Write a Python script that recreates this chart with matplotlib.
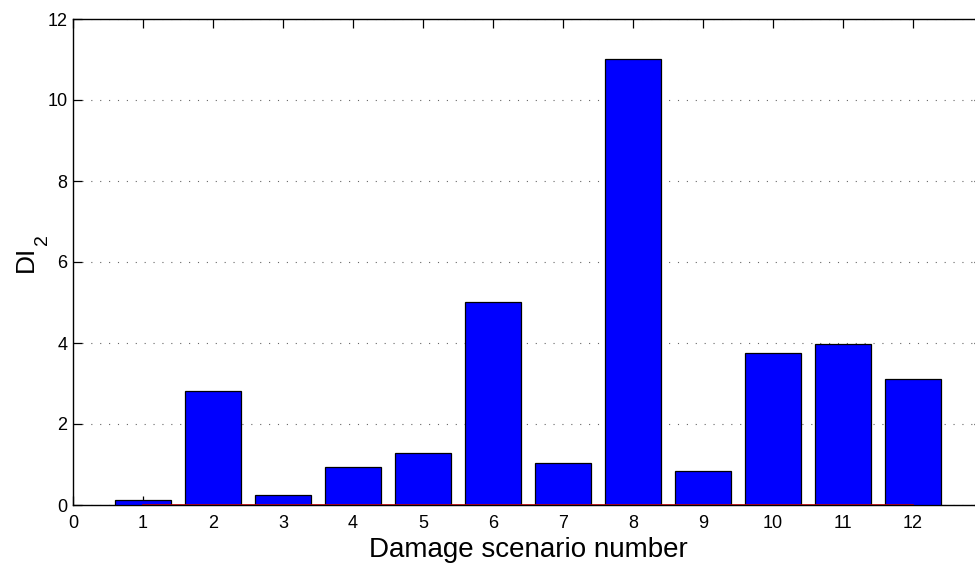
import matplotlib.pyplot as plt
import numpy as np

plt.rcParams['font.family'] = ['Liberation Sans', 'DejaVu Sans']

scenarios = np.arange(1, 13)
di2 = [0.13, 2.82, 0.25, 0.93, 1.28, 5.02, 1.03, 11.02, 0.85, 3.75, 3.97, 3.12]

fig = plt.figure(figsize=(9.75, 5.65), dpi=100)
ax = fig.add_axes([73/975, 1 - 505/565, 910/975, 486/565])

ax.bar(scenarios, di2, width=0.8, color='#0000ff', edgecolor='black', linewidth=0.9, zorder=3)
# matlab style baseline
ax.plot([scenarios[0], scenarios[-1]], [0, 0], color='#b00000', linewidth=1.2, zorder=4)

ax.set_xlim(0, 13)
ax.set_ylim(0, 12)
ax.set_xticks(np.arange(0, 13))
ax.set_yticks(np.arange(0, 13, 2))
ax.tick_params(direction='in', top=True, right=True, labelsize=13, length=6.5, width=0.9)
ax.tick_params(axis='x', pad=7.5)
ax.tick_params(axis='y', pad=4)
ax.yaxis.grid(True, linestyle=(0, (1, 7)), color='#666666', linewidth=0.8)
ax.set_axisbelow(True)
for s in ax.spines.values():
    s.set_linewidth(1.0)

ax.set_xlabel('Damage scenario number', fontsize=20, labelpad=3)

# y label with a low subscript, drawn as two texts
fig.text(33/975, 1 - 272/565, 'DI', rotation=90, rotation_mode='anchor',
         ha='left', va='baseline', fontsize=19)
fig.text(47/975, 1 - 245/565, '2', rotation=90, rotation_mode='anchor',
         ha='left', va='baseline', fontsize=14)

plt.savefig('out.png', dpi=100)
